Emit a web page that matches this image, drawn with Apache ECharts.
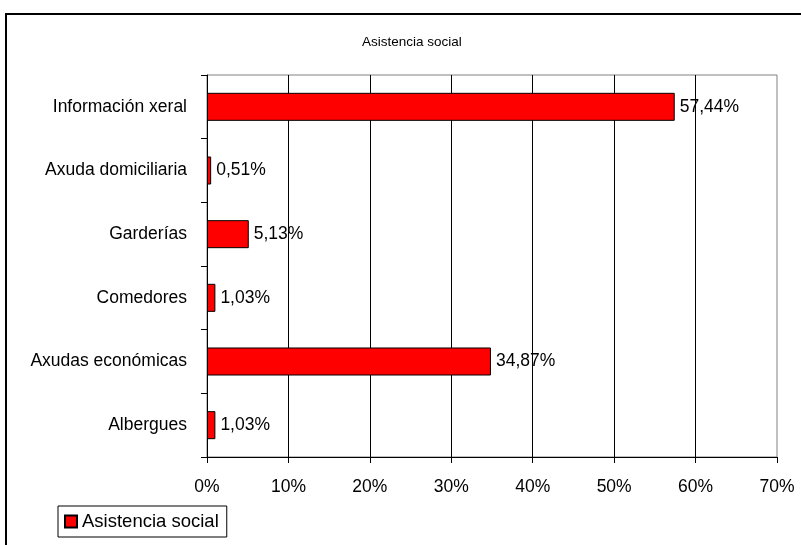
<!DOCTYPE html>
<html>
<head>
  <meta charset="utf-8">
  <title>Asistencia social</title>
  <script src="https://cdn.jsdelivr.net/npm/echarts@6/dist/echarts.min.js"></script>
</head>
<body style="margin:0">
  <div id="main" style="width:801px;height:545px;"></div>
  <script type="text/javascript">
    var categorias = ['Información xeral', 'Axuda domiciliaria', 'Garderías', 'Comedores', 'Axudas económicas', 'Albergues'];
    var valores = [57.44, 0.51, 5.13, 1.03, 34.87, 1.03];
    var serieNome = 'Asistencia social';

    var myChart = echarts.init(document.getElementById('main'));
    var fonte = 'Liberation Sans, Arial, sans-serif';

    var option = {
      animation: false,
      textStyle: { fontFamily: fonte, color: '#000' },
      title: {
        text: 'Asistencia social',
        left: 357,
        top: 30,
        textStyle: { fontSize: 13.5, fontWeight: 'normal', color: '#000', fontFamily: fonte }
      },
      // marco exterior
      graphic: [{
        type: 'rect',
        shape: { x: 6, y: 14, width: 820, height: 560 },
        style: { fill: 'none', stroke: '#000', lineWidth: 2 },
        silent: true
      }],
      legend: {
        left: 58,
        top: 506,
        padding: [6, 8, 6, 6],
        borderColor: '#000',
        borderWidth: 1,
        itemWidth: 12,
        itemHeight: 12,
        icon: 'rect',
        textStyle: { fontSize: 18.5, color: '#000', fontFamily: fonte },
        data: [serieNome]
      },
      grid: {
        left: 207,
        right: 24,
        top: 75,
        bottom: 88,
        show: true,
        borderColor: '#808080',
        borderWidth: 1
      },
      xAxis: {
        type: 'value',
        min: 0,
        max: 70,
        interval: 10,
        axisLine: { show: true, lineStyle: { color: '#000' } },
        axisTick: { show: true, length: 6, lineStyle: { color: '#000' } },
        axisLabel: {
          margin: 21,
          fontSize: 17.5,
          color: '#000',
          formatter: function (v) { return v + '%'; }
        },
        splitLine: { show: true, showMinLine: false, showMaxLine: false, lineStyle: { color: '#000' } }
      },
      yAxis: {
        type: 'category',
        inverse: true,
        data: categorias,
        axisLine: { show: true, lineStyle: { color: '#000' } },
        axisTick: { show: true, length: 6, lineStyle: { color: '#000' } },
        axisLabel: { margin: 20, fontSize: 17.5, color: '#000' }
      },
      series: [{
        name: serieNome,
        type: 'bar',
        barWidth: '44%',
        data: valores,
        itemStyle: { color: '#ff0000', borderColor: '#000', borderWidth: 1 },
        label: {
          show: true,
          position: 'right',
          distance: 5,
          fontSize: 17.5,
          color: '#000',
          formatter: function (p) { return p.value.toFixed(2).replace('.', ',') + '%'; }
        }
      }]
    };

    myChart.setOption(option);
  </script>
</body>
</html>
